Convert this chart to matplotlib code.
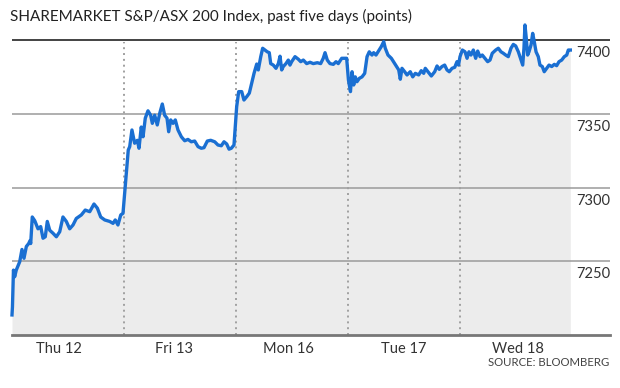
import matplotlib
matplotlib.use("Agg")
import matplotlib.pyplot as plt
import numpy as np

plt.rcParams['font.family'] = ['Lato', 'DejaVu Sans']

# index level, x is trading day (0 = Thu open, 5 = Wed close)
days = ["Thu 12", "Fri 13", "Mon 16", "Tue 17", "Wed 18"]
yticks = [7250, 7300, 7350, 7400]

thu_x = [0.000, 0.004, 0.013, 0.024, 0.038, 0.069, 0.089, 0.107, 0.128, 0.149,
         0.161, 0.167, 0.181, 0.203, 0.232, 0.256, 0.277, 0.297, 0.315, 0.337,
         0.366, 0.396, 0.426, 0.455, 0.485, 0.515, 0.545, 0.574, 0.619, 0.654,
         0.694, 0.732, 0.762, 0.792, 0.828, 0.872, 0.902, 0.922, 0.946, 0.971,
         0.991]
thu_v = [7213.6, 7219.0, 7244.0, 7239.5, 7244.0, 7249.7, 7258.0, 7252.0, 7260.0, 7262.0,
         7264.0, 7262.0, 7280.0, 7277.5, 7272.0, 7273.5, 7265.6, 7266.6, 7277.0, 7271.0,
         7269.0, 7266.6, 7270.0, 7280.0, 7277.0, 7272.0, 7274.6, 7279.0, 7281.4, 7284.7,
         7283.6, 7288.8, 7286.0, 7280.0, 7278.0, 7277.0, 7275.7, 7278.0, 7274.6, 7281.4,
         7282.5]

fri_x = [1.038, 1.051, 1.071, 1.095, 1.119, 1.134, 1.154, 1.170, 1.190, 1.214,
         1.238, 1.253, 1.274, 1.297, 1.319, 1.342, 1.363, 1.384, 1.399, 1.417,
         1.438, 1.458, 1.482, 1.512, 1.542, 1.571, 1.601, 1.631, 1.661, 1.690,
         1.714, 1.744, 1.774, 1.810, 1.839, 1.869, 1.893, 1.917, 1.938, 1.958,
         1.982]
fri_v = [7325.4, 7327.7, 7339.0, 7330.0, 7332.0, 7326.6, 7341.0, 7334.4, 7347.0, 7352.0,
         7349.0, 7343.5, 7349.0, 7342.4, 7350.3, 7356.6, 7349.0, 7347.0, 7337.8, 7345.8,
         7343.5, 7345.8, 7339.0, 7334.4, 7331.7, 7332.6, 7331.0, 7331.5, 7327.7, 7326.6,
         7327.0, 7331.5, 7332.0, 7331.0, 7328.8, 7328.3, 7331.0, 7329.5, 7326.0, 7326.6,
         7328.8]

mon_x = [2.006, 2.024, 2.051, 2.071, 2.096, 2.119, 2.140, 2.161, 2.185, 2.199,
         2.221, 2.238, 2.259, 2.279, 2.297, 2.310, 2.333, 2.357, 2.378, 2.393,
         2.408, 2.422, 2.446, 2.467, 2.482, 2.497, 2.527, 2.556, 2.578, 2.601,
         2.631, 2.661, 2.690, 2.726, 2.756, 2.779, 2.795, 2.815, 2.839, 2.869,
         2.893, 2.913, 2.944, 2.988]
mon_v = [7354.8, 7365.0, 7365.0, 7359.3, 7361.6, 7364.0, 7370.6, 7377.4, 7383.7, 7379.7,
         7388.7, 7394.4, 7393.2, 7392.0, 7391.4, 7384.0, 7383.0, 7380.8, 7384.0, 7389.0,
         7379.7, 7382.0, 7384.0, 7386.4, 7383.0, 7385.3, 7388.7, 7387.0, 7385.3, 7386.4,
         7384.0, 7384.9, 7384.0, 7384.6, 7384.0, 7387.6, 7391.4, 7386.4, 7384.0, 7383.5,
         7385.3, 7384.0, 7387.6, 7387.6]

tue_x = [3.004, 3.022, 3.036, 3.051, 3.065, 3.080, 3.101, 3.125, 3.149, 3.170,
         3.190, 3.214, 3.229, 3.250, 3.274, 3.297, 3.319, 3.333, 3.357, 3.387,
         3.417, 3.438, 3.453, 3.467, 3.482, 3.506, 3.527, 3.556, 3.578, 3.601,
         3.631, 3.654, 3.676, 3.690, 3.714, 3.744, 3.774, 3.795, 3.815, 3.839,
         3.863, 3.884, 3.904, 3.929, 3.953, 3.973, 3.987]
tue_v = [7372.9, 7365.0, 7378.5, 7369.5, 7375.0, 7371.7, 7374.0, 7375.0, 7377.4, 7388.7,
         7392.0, 7389.8, 7391.4, 7389.8, 7392.7, 7395.5, 7398.9, 7394.4, 7389.8, 7387.6,
         7384.0, 7381.5, 7379.7, 7373.4, 7380.8, 7378.5, 7376.3, 7378.5, 7375.0, 7377.4,
         7376.3, 7379.2, 7377.4, 7380.8, 7378.5, 7375.6, 7378.5, 7382.4, 7380.1, 7382.0,
         7383.0, 7379.7, 7378.5, 7380.8, 7381.5, 7385.3, 7383.0]

wed_x = [4.000, 4.021, 4.045, 4.063, 4.080, 4.098, 4.119, 4.140, 4.158, 4.179,
         4.199, 4.223, 4.247, 4.268, 4.288, 4.319, 4.342, 4.366, 4.387, 4.408,
         4.431, 4.455, 4.476, 4.497, 4.521, 4.545, 4.560, 4.571, 4.580, 4.592,
         4.604, 4.616, 4.634, 4.649, 4.663, 4.679, 4.699, 4.714, 4.735, 4.752,
         4.774, 4.795, 4.819, 4.842, 4.863, 4.884, 4.908, 4.931, 4.953, 4.967,
         4.985]
wed_v = [7388.7, 7393.2, 7392.0, 7387.6, 7392.0, 7389.8, 7393.2, 7387.6, 7392.5, 7388.7,
         7389.8, 7387.6, 7385.3, 7386.4, 7391.0, 7393.2, 7394.4, 7392.0, 7391.0, 7389.8,
         7388.7, 7394.4, 7397.0, 7396.0, 7392.0, 7386.4, 7383.0, 7394.4, 7410.2, 7401.0,
         7389.8, 7392.0, 7396.6, 7404.5, 7398.9, 7392.0, 7388.7, 7383.0, 7382.0, 7378.5,
         7380.8, 7383.0, 7382.0, 7383.5, 7382.6, 7385.3, 7386.4, 7388.7, 7389.8, 7393.2,
         7393.2]

x = np.array(thu_x + fri_x + mon_x + tue_x + wed_x)
v = np.array(thu_v + fri_v + mon_v + tue_v + wed_v)

fig = plt.figure(figsize=(6.2, 3.88), dpi=100)
# plot area: x 12..610 px, y 10.5..335 px (from top)
ax = fig.add_axes([12 / 620, 53 / 388, 598 / 620, 324.5 / 388])
ax.set_xlim(0, 598 / 112)
ax.set_ylim(7200, 7420)

ax.fill_between(x, v, 7200, color="#ececec", lw=0, zorder=1)

for t in yticks:
    ax.axhline(t, color="#111111" if t == 7400 else "#9a9a9a", lw=1.1, zorder=2)
    ax.annotate(str(t), xy=(1, t), xycoords=("axes fraction", "data"),
                xytext=(0, -13), textcoords="offset pixels",
                ha="right", va="center", fontsize=10.5, color="#333333")

for d in range(1, 5):
    ax.plot([d, d], [7200, 7398.5], color="#a0a0a0", lw=1.4,
            linestyle=(0, (1, 2)), zorder=2)

ax.plot(x, v, color="#1a6fd2", lw=2.4, solid_joinstyle="round", zorder=4, clip_on=False)

for s in ["top", "right", "left"]:
    ax.spines[s].set_visible(False)
ax.spines["bottom"].set_color("#777777")
ax.spines["bottom"].set_linewidth(2)
ax.spines["bottom"].set_zorder(5)

ax.set_yticks([])
ax.set_xticks(0.42 + 1.025 * np.arange(len(days)))
ax.set_xticklabels(days, fontsize=10.5, color="#333333")
ax.tick_params(axis="x", length=0, pad=5)

fig.text(10 / 620, 1 - 16 / 388, "SHAREMARKET S&P/ASX 200 Index, past five days (points)",
         ha="left", va="center", fontsize=11, color="#222222")
fig.text(609 / 620, 1 - 362 / 388, "SOURCE: BLOOMBERG", ha="right", va="center",
         fontsize=8.2, color="#444444")

fig.savefig("out.png", dpi=100)
